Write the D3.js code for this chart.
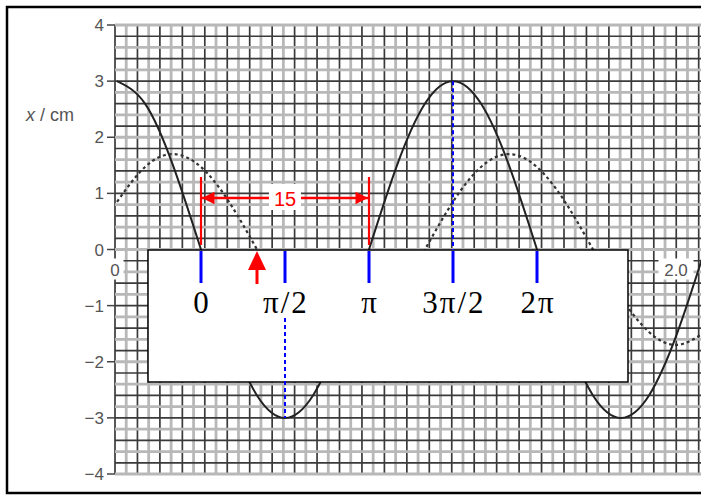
<!DOCTYPE html>
<html>
<head>
<meta charset="utf-8">
<script src="https://cdn.jsdelivr.net/npm/d3@7"></script>
<style>
  body { margin: 0; background: #fff; }
  svg { display: block; }
</style>
</head>
<body>
<svg id="chart" width="701" height="501"></svg>
<script>
// values
const times = [0, 0.1, 0.2, 0.3, 0.4, 0.5, 0.6, 0.7, 0.8, 0.9, 1.0, 1.1, 1.2, 1.3, 1.4, 1.5, 1.6, 1.7, 1.8, 1.9, 2.0, 2.1];
const xSolid = [3, 2.6, 1.5, 0, -1.5, -2.6, -3, -2.6, -1.5, 0, 1.5, 2.6, 3, 2.6, 1.5, 0, -1.5, -2.6, -3, -2.6, -1.5, 0];
const xDashed = [0.85, 1.47, 1.7, 1.47, 0.85, 0, -0.85, -1.47, -1.7, -1.47, -0.85, 0, 0.85, 1.47, 1.7, 1.47, 0.85, 0, -0.85, -1.47, -1.7, -1.47];
const yTicks = [4, 3, 2, 1, 0, -1, -2, -3, -4];
const timeTicks = [0, 2.0];
const phaseTimes = [0.3, 0.6, 0.9, 1.2, 1.5];
const phaseLabels = ["0", "π/2", "π", "3π/2", "2π"];
const halfPeriodLabel = "15";
const arrowTime = 0.5;

const svg = d3.select("#chart");
const gridLeft = 115, gridRight = 701;

const x = d3.scaleLinear().domain([0, 2]).range([117, 677]);
const y = d3.scaleLinear().domain([-4, 4]).range([474, 25]);

// clip for curves
svg.append("clipPath").attr("id", "plotClip")
    .append("rect")
    .attr("x", gridLeft).attr("y", y(4))
    .attr("width", gridRight - gridLeft).attr("height", y(-4) - y(4));

// graph-paper grid, one line every 0.2 cm, alternating dark and grey
const grid = svg.append("g");
const step = (y(0) - y(0.2));
const vLines = d3.range(gridLeft, gridRight + 1, step);
vLines.forEach((px, i) => {
    grid.append("line")
        .attr("x1", px).attr("x2", px)
        .attr("y1", y(4)).attr("y2", y(-4))
        .attr("stroke", i % 2 ? "#b8b8b8" : "#3a3a3a")
        .attr("stroke-width", i % 2 ? 2.8 : 1.7);
});
const hVals = d3.range(0, 41).map(k => -4 + k * 0.2);
hVals.forEach((v, k) => {
    const grey = k % 2 === 0;
    grid.append("line")
        .attr("x1", gridLeft).attr("x2", gridRight)
        .attr("y1", y(v)).attr("y2", y(v))
        .attr("stroke", grey ? "#b8b8b8" : "#3a3a3a")
        .attr("stroke-width", grey ? 2.8 : 1.7);
});

// y axis ticks and labels
yTicks.forEach(v => {
    svg.append("line")
        .attr("x1", 107).attr("x2", gridLeft)
        .attr("y1", y(v)).attr("y2", y(v))
        .attr("stroke", "#444").attr("stroke-width", 1.5);
    svg.append("text")
        .attr("x", 104).attr("y", y(v) + 6)
        .attr("text-anchor", "end")
        .style("font", "17px 'Liberation Sans', Arial, sans-serif")
        .style("fill", "#555")
        .text(v < 0 ? "\u2212" + Math.abs(v) : v);
});

const yLab = svg.append("text")
    .attr("x", 26).attr("y", y(2.4) + 6)
    .style("font", "18px 'Liberation Sans', Arial, sans-serif")
    .style("fill", "#555");
yLab.append("tspan").style("font-style", "italic").text("x");
yLab.append("tspan").text(" / cm");

// curves
const line = d3.line().x((d, i) => x(times[i])).y(d => y(d)).curve(d3.curveNatural);
const curves = svg.append("g").attr("clip-path", "url(#plotClip)");
curves.append("path")
    .attr("d", line(xSolid))
    .attr("fill", "none").attr("stroke", "#222").attr("stroke-width", 2);
curves.append("path")
    .attr("d", line(xDashed))
    .attr("fill", "none").attr("stroke", "#333").attr("stroke-width", 2.2)
    .attr("stroke-dasharray", "3,3");

// time labels with white backing
timeTicks.forEach(t => {
    const lbl = t === 0 ? "0" : t.toFixed(1);
    const cx = t === 0 ? gridLeft : x(t) - 1;
    const w = lbl.length * 9 + 8;
    svg.append("rect")
        .attr("x", cx - w / 2).attr("y", y(0) + 9)
        .attr("width", w).attr("height", 21)
        .attr("fill", "#fff");
    svg.append("text")
        .attr("x", cx).attr("y", y(0) + 26)
        .attr("text-anchor", "middle")
        .style("font", "17px 'Liberation Sans', Arial, sans-serif")
        .style("fill", "#555")
        .text(lbl);
});

// white box with phase labels
svg.append("rect")
    .attr("x", 148).attr("y", 250)
    .attr("width", 480).attr("height", 132)
    .attr("fill", "#fff").attr("stroke", "#000").attr("stroke-width", 1.5);

phaseTimes.forEach((t, i) => {
    svg.append("line")
        .attr("x1", x(t)).attr("x2", x(t))
        .attr("y1", 251).attr("y2", 283)
        .attr("stroke", "#00f").attr("stroke-width", 3);
    svg.append("text")
        .attr("x", x(t) + 1).attr("y", 313)
        .attr("text-anchor", "middle")
        .style("font", "31px 'Liberation Serif', 'Times New Roman', serif")
        .style("letter-spacing", "2px")
        .style("fill", "#000")
        .text(phaseLabels[i]);
});

// blue dashed guides to extremes
svg.append("line")
    .attr("x1", x(1.2)).attr("x2", x(1.2))
    .attr("y1", y(3)).attr("y2", 250)
    .attr("stroke", "#00f").attr("stroke-width", 2)
    .attr("stroke-dasharray", "4,3");
svg.append("line")
    .attr("x1", x(0.6)).attr("x2", x(0.6))
    .attr("y1", 318).attr("y2", y(-3))
    .attr("stroke", "#00f").attr("stroke-width", 2)
    .attr("stroke-dasharray", "4,3");

// red half-period annotation
const red = "#f00";
const defs = svg.append("defs");
defs.append("marker").attr("id", "ah")
    .attr("viewBox", "0 0 10 10").attr("refX", 10).attr("refY", 5)
    .attr("markerWidth", 7).attr("markerHeight", 5)
    .attr("markerUnits", "strokeWidth")
    .attr("orient", "auto-start-reverse")
    .append("path").attr("d", "M0,0L10,5L0,10Z").attr("fill", red);

[0.3, 0.9].forEach(t => {
    svg.append("line")
        .attr("x1", x(t)).attr("x2", x(t))
        .attr("y1", 177).attr("y2", 245)
        .attr("stroke", red).attr("stroke-width", 2.2);
});
svg.append("line")
    .attr("x1", x(0.3) + 1).attr("x2", x(0.9) - 1)
    .attr("y1", 198).attr("y2", 198)
    .attr("stroke", red).attr("stroke-width", 2.5)
    .attr("marker-start", "url(#ah)").attr("marker-end", "url(#ah)");
svg.append("rect")
    .attr("x", x(0.6) - 16).attr("y", 184)
    .attr("width", 32).attr("height", 26)
    .attr("fill", "#fff");
svg.append("text")
    .attr("x", x(0.6)).attr("y", 206)
    .attr("text-anchor", "middle")
    .style("font", "20px 'Liberation Sans', Arial, sans-serif")
    .style("fill", red)
    .text(halfPeriodLabel);

// red up arrow at dashed zero crossing
svg.append("line")
    .attr("x1", x(arrowTime)).attr("x2", x(arrowTime))
    .attr("y1", 284).attr("y2", 268)
    .attr("stroke", red).attr("stroke-width", 3);
svg.append("path")
    .attr("d", `M${x(arrowTime) - 9},270L${x(arrowTime)},251L${x(arrowTime) + 9},270Z`)
    .attr("fill", red);

// outer frame
svg.append("rect")
    .attr("x", 7).attr("y", 7)
    .attr("width", 800).attr("height", 486)
    .attr("fill", "none").attr("stroke", "#000").attr("stroke-width", 2.5);
</script>
</body>
</html>
